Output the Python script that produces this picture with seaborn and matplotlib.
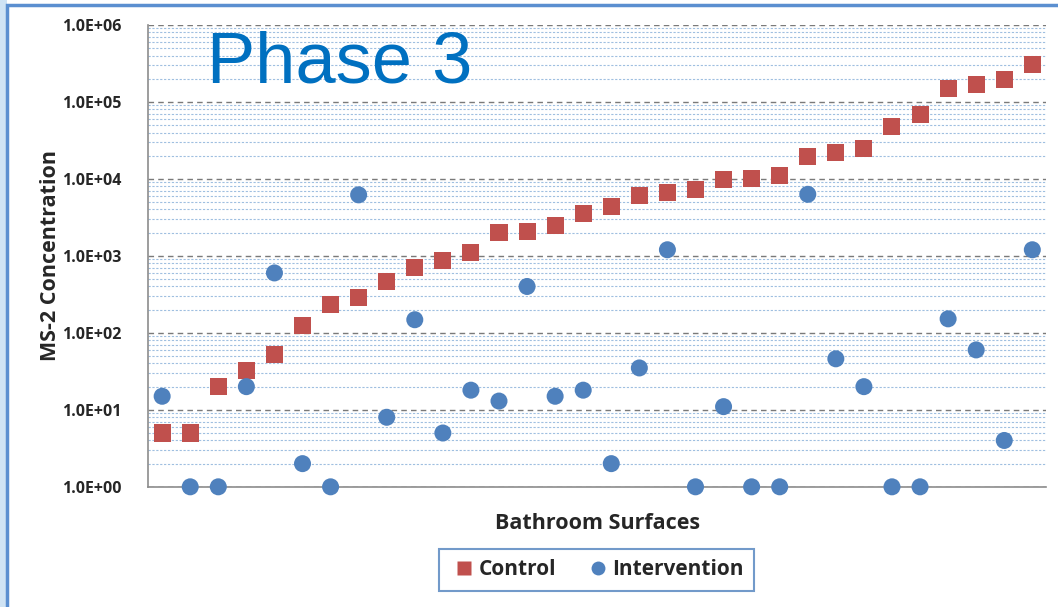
import numpy as np
import pandas as pd
import matplotlib
matplotlib.use("Agg")
from matplotlib import pyplot as plt
from matplotlib.ticker import LogLocator, FixedLocator, NullFormatter, FuncFormatter
import matplotlib.patches as mpatches
import seaborn as sns

# values (MS-2 concentration per bathroom surface)
surfaces = list(range(1, 33))
control = [5, 5, 20, 32, 52, 123, 230, 285, 470, 700, 860, 1120,
           2000, 2100, 2500, 3500, 4400, 6000, 6600, 7200, 9700, 10000, 11000,
           19500, 22000, 24500, 48000, 68000, 148000, 170000, 195000, 310000]
intervention = [15, 1, 1, 20, 600, 2, 1, 6200, 8, 148, 5, 18,
                13, 400, 15, 18, 2, 35, 1200, 1, 11, 1, 1,
                6300, 46, 20, 1, 1, 152, 60, 4, 1200]
groups = ["Control", "Intervention"]
group_colors = ["#C0504D", "#4F81BD"]
y_ticks = [1e0, 1e1, 1e2, 1e3, 1e4, 1e5, 1e6]

df = pd.DataFrame({
    "Surface": surfaces * 2,
    "Concentration": control + intervention,
    "Group": ["Control"] * len(control) + ["Intervention"] * len(intervention),
})
df["pos"] = df["Surface"] - 1

sns.set_style("white")
plt.rcParams["font.family"] = ["Open Sans", "DejaVu Sans"]

fig = plt.figure(figsize=(10.58, 6.07), dpi=100)
ax = fig.add_axes([0.140, 0.198, 0.849, 0.761])

# grid first so markers sit on top
ax.set_yscale("log")
ax.set_ylim(1, 1e6)
ax.set_xlim(-0.5, len(surfaces) - 0.5)
ax.yaxis.set_major_locator(FixedLocator(y_ticks))
ax.yaxis.set_minor_locator(LogLocator(base=10, subs=np.arange(2, 10), numticks=20))
ax.yaxis.set_minor_formatter(NullFormatter())
ax.yaxis.set_major_formatter(FuncFormatter(lambda v, p: f"1.0E+{int(round(np.log10(v))):02d}"))
ax.grid(True, which="major", axis="y", color="#7a7a7a", linestyle=(0, (4, 3)), linewidth=1.0)
ax.grid(True, which="minor", axis="y", color="#9fbfe0", linestyle=(0, (2, 1.5)), linewidth=0.8)
ax.set_axisbelow(True)

sns.scatterplot(data=df, x="pos", y="Concentration", hue="Group", style="Group",
                hue_order=groups, style_order=groups,
                palette=dict(zip(groups, group_colors)),
                markers={"Control": "s", "Intervention": "o"},
                s=150, edgecolor="none", linewidth=0, ax=ax, zorder=3, clip_on=False)

ax.xaxis.set_major_locator(FixedLocator(np.arange(len(surfaces) + 1) - 0.5))
ax.set_xticklabels([])
ax.tick_params(axis="x", which="major", direction="out", length=5, color="#8c8c8c", width=1)
ax.tick_params(axis="y", which="major", direction="out", length=6, color="#8c8c8c", width=1,
               labelsize=11.5, pad=13)
ax.tick_params(axis="y", which="minor", length=0)
for lab in ax.get_yticklabels():
    lab.set_fontweight("bold")

for side in ["top", "right"]:
    ax.spines[side].set_visible(False)
for side in ["left", "bottom"]:
    ax.spines[side].set_color("#8c8c8c")
    ax.spines[side].set_linewidth(1.2)

ax.set_xlabel("Bathroom Surfaces", fontsize=15.5, fontweight="bold", labelpad=10)
ax.set_ylabel("MS-2 Concentration", fontsize=15.5, fontweight="bold", labelpad=1)

ax.text(0.065, 0.988, "Phase 3", transform=ax.transAxes, ha="left", va="top",
        fontsize=52, color="#0070C0", family="Liberation Sans")

ax.legend_.remove()
handles = [
    plt.Line2D([], [], marker="s", linestyle="none", markersize=10,
               markerfacecolor=group_colors[0], markeredgecolor="none"),
    plt.Line2D([], [], marker="o", linestyle="none", markersize=10,
               markerfacecolor=group_colors[1], markeredgecolor="none"),
]
leg = fig.legend(handles, groups, loc="center", bbox_to_anchor=(0.564, 0.061), ncol=2,
                 frameon=True, fancybox=False, handletextpad=0.0, columnspacing=1.3,
                 handlelength=1.4, borderpad=0.5, prop={"size": 15, "weight": "bold"})
leg.get_frame().set_edgecolor("#4F81BD")
leg.get_frame().set_linewidth(1.5)

# slide frame around the chart
fig.patches.append(mpatches.Rectangle((0, 0), 7 / 1058, 1, transform=fig.transFigure,
                                      facecolor="#cfe3f4", edgecolor="none", zorder=0))
fig.patches.append(mpatches.Rectangle((7 / 1058, -0.05), 1.1, 1.05 - 5 / 607,
                                      transform=fig.transFigure, facecolor="none",
                                      edgecolor="#5b8fd0", linewidth=2.5, zorder=1))

fig.savefig("out.png", dpi=100)
